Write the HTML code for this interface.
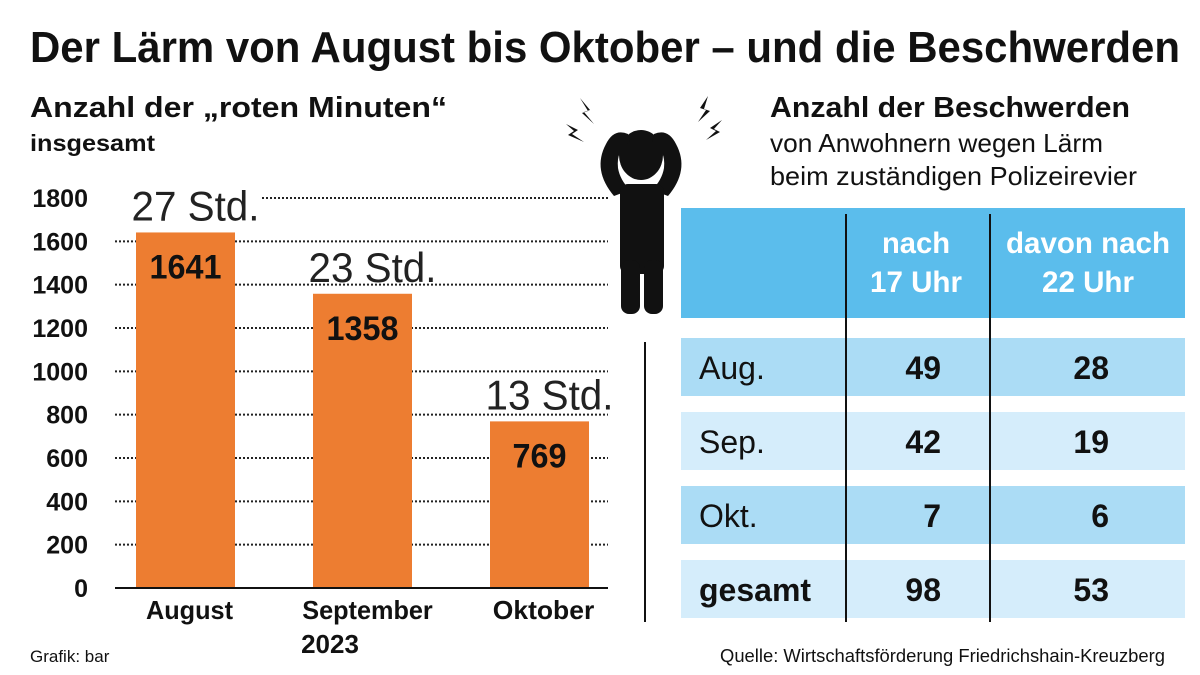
<!DOCTYPE html>
<html><head><meta charset="utf-8"><style>
html,body{margin:0;padding:0;background:#fff;}
svg{display:block;font-family:"Liberation Sans",sans-serif;}
</style></head><body>
<svg id="c" width="1200" height="675" viewBox="0 0 1200 675">
<text x="30" y="62" font-size="44" font-weight="bold" fill="#111" textLength="1150" lengthAdjust="spacingAndGlyphs">Der Lärm von August bis Oktober – und die Beschwerden</text>
<text x="30" y="117" font-size="29" font-weight="bold" fill="#111" textLength="417" lengthAdjust="spacingAndGlyphs">Anzahl der „roten Minuten“</text>
<text x="30" y="151" font-size="23" font-weight="bold" fill="#111" textLength="125" lengthAdjust="spacingAndGlyphs">insgesamt</text>
<g id="grid"></g>
<g id="bars"></g>
<line x1="115" y1="588" x2="608" y2="588" stroke="#111" stroke-width="2"/>
<text x="330" y="653" font-size="26" font-weight="bold" text-anchor="middle" fill="#111">2023</text>
<text x="30" y="662" font-size="17" fill="#111">Grafik: bar</text>
<g fill="#111">
 <ellipse cx="641" cy="155" rx="22" ry="25"/>
 <path d="M614 196 Q592 170 606 144 Q614 128 628 134 L630 142 Q616 150 618 168 Q620 180 630 190 Z"/>
 <path d="M668 196 Q690 170 676 144 Q668 128 654 134 L652 142 Q666 150 664 168 Q662 180 652 190 Z"/>
 <rect x="620" y="184" width="44" height="90" rx="8"/>
 <rect x="621" y="260" width="19" height="54" rx="8"/>
 <rect x="644" y="260" width="19" height="54" rx="8"/>
 <path d="M580 98 L590 110 L584 112 L594 124 L582 113 L588 111 Z"/>
 <path d="M566 124 L578 130 L572 134 L584 142 L568 135 L574 131 Z"/>
 <path d="M708 96 L700 108 L706 110 L698 122 L710 111 L704 109 Z"/>
 <path d="M722 120 L710 128 L716 131 L706 140 L720 132 L714 129 Z"/>
</g>
<text x="770" y="117" font-size="29" font-weight="bold" fill="#111" textLength="360" lengthAdjust="spacingAndGlyphs">Anzahl der Beschwerden</text>
<text x="770" y="152" font-size="26" fill="#111" textLength="333" lengthAdjust="spacingAndGlyphs">von Anwohnern wegen Lärm</text>
<text x="770" y="185" font-size="26" fill="#111" textLength="367" lengthAdjust="spacingAndGlyphs">beim zuständigen Polizeirevier</text>
<rect x="681" y="208" width="504" height="110" fill="#5bbdec"/>
<text x="916" y="253" font-size="30" font-weight="bold" fill="#fff" text-anchor="middle" textLength="68" lengthAdjust="spacingAndGlyphs">nach</text>
<text x="916" y="292" font-size="30" font-weight="bold" fill="#fff" text-anchor="middle" textLength="92" lengthAdjust="spacingAndGlyphs">17 Uhr</text>
<text x="1088" y="253" font-size="30" font-weight="bold" fill="#fff" text-anchor="middle" textLength="164" lengthAdjust="spacingAndGlyphs">davon nach</text>
<text x="1088" y="292" font-size="30" font-weight="bold" fill="#fff" text-anchor="middle" textLength="92" lengthAdjust="spacingAndGlyphs">22 Uhr</text>
<g id="rows"></g>
<line x1="846" y1="214" x2="846" y2="622" stroke="#111" stroke-width="2"/>
<line x1="990" y1="214" x2="990" y2="622" stroke="#111" stroke-width="2"/>
<line x1="645" y1="342" x2="645" y2="622" stroke="#111" stroke-width="2"/>
<text x="1165" y="662" font-size="18" fill="#111" text-anchor="end" textLength="445" lengthAdjust="spacingAndGlyphs">Quelle: Wirtschaftsförderung Friedrichshain-Kreuzberg</text>
</svg>
<script>
const categories=["August","September","Oktober"];
const values=[1641,1358,769];
const hourLabels=["27 Std.","23 Std.","13 Std."];
const ticks=[0,200,400,600,800,1000,1200,1400,1600,1800];
const rowLabels=["Aug.","Sep.","Okt.","gesamt"];
const after17=[49,42,7,98];
const after22=[28,19,6,53];
const NS="http://www.w3.org/2000/svg";
const y=v=>588-v*390/1800;
const x=i=>136+i*177;
const bw=99;
function mk(tag,attrs,parent,text){const e=document.createElementNS(NS,tag);for(const k in attrs)e.setAttribute(k,attrs[k]);if(text!==undefined)e.textContent=text;parent.appendChild(e);return e;}
const grid=document.getElementById('grid'),bars=document.getElementById('bars'),rows=document.getElementById('rows');
ticks.forEach(t=>{
 if(t>0){const l=mk('line',{x1:t===1800?262:115,y1:y(t),x2:608,y2:y(t),stroke:'#222','stroke-width':2,'stroke-dasharray':'2 2'},grid);
 
 }
 const tx=mk('text',{x:88,y:y(t)+9,'font-size':25,'font-weight':'bold','text-anchor':'end',fill:'#111'},grid,t);
 
 
});
values.forEach((v,i)=>{
 const r=mk('rect',{x:x(i),y:y(v),width:bw,height:588-y(v),fill:'#ed7d31'},bars);
 
 
 const vl=mk('text',{x:x(i)+bw/2,y:y(v)+46,'font-size':34,'font-weight':'bold','text-anchor':'middle',fill:'#111',textLength:String(v).length*18,lengthAdjust:'spacingAndGlyphs'},bars,v);
 
 
 const hl=mk('text',{x:x(i)+bw/2+10,y:y(v)-12,'font-size':42,'font-weight':'300',fill:'#222','text-anchor':'middle',textLength:128,lengthAdjust:'spacingAndGlyphs'},bars,hourLabels[i]);
 
 
 const cl=mk('text',{x:x(i)+bw/2+(i===1?5:4),y:619,'font-size':26,'font-weight':'bold','text-anchor':'middle',fill:'#111',textLength:categories[i].length*14.5,lengthAdjust:'spacingAndGlyphs'},bars,categories[i]);
 
 
});
rowLabels.forEach((lab,i)=>{
 const top=338+i*74;
 const r=mk('rect',{x:681,y:top,width:504,height:58,fill:i%2===0?'#abdcf5':'#d5edfb'},rows);
 
 
 const t=mk('text',{x:699,y:top+41,'font-size':32,'font-weight':i===3?'bold':'normal',fill:'#111'},rows,lab);
 
 
 const a=mk('text',{x:941,y:top+41,'font-size':32,'font-weight':'bold','text-anchor':'end',fill:'#111'},rows,after17[i]);
 
 
 const b=mk('text',{x:1109,y:top+41,'font-size':32,'font-weight':'bold','text-anchor':'end',fill:'#111'},rows,after22[i]);
 
 
});
</script>
</body></html>
